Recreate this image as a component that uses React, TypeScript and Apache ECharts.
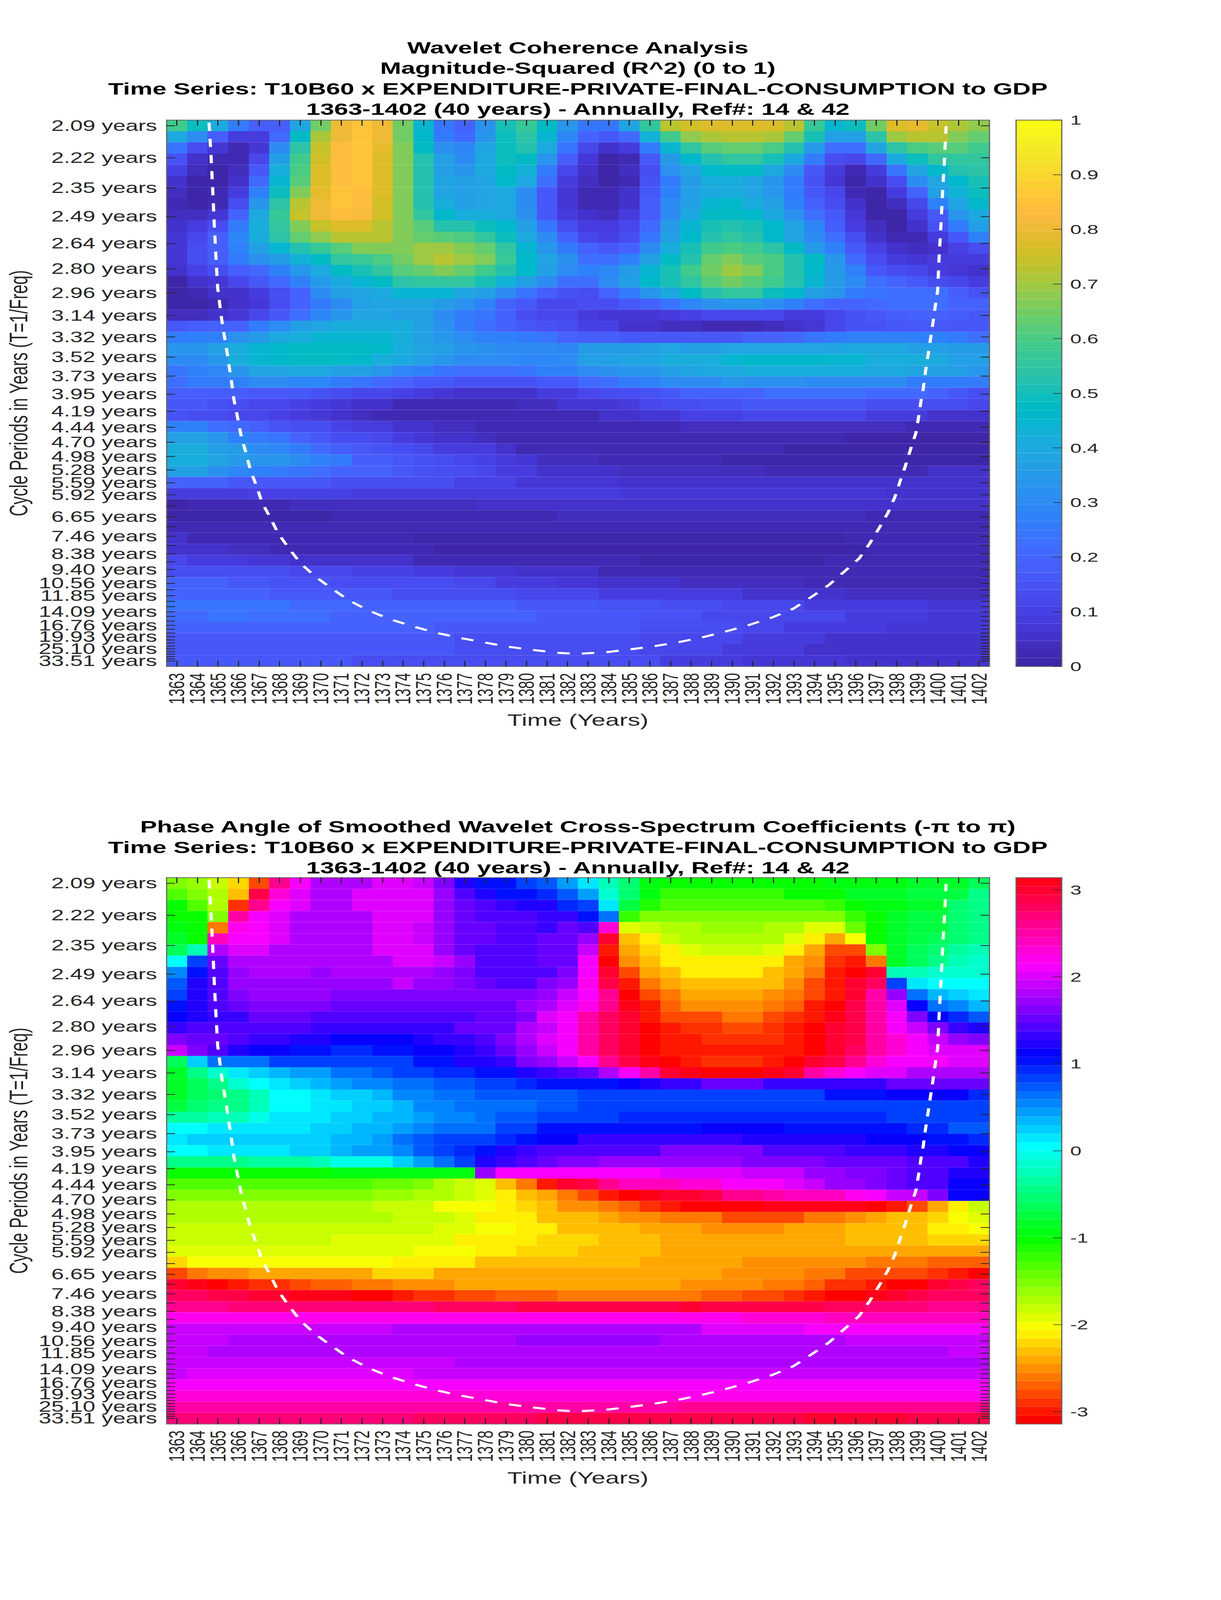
import React, { useEffect, useRef } from "react";
import * as echarts from "echarts";

const years = [1363,1364,1365,1366,1367,1368,1369,1370,1371,1372,1373,1374,1375,1376,1377,1378,1379,1380,1381,1382,1383,1384,1385,1386,1387,1388,1389,1390,1391,1392,1393,1394,1395,1396,1397,1398,1399,1400,1401,1402];

const tickPeriods = [2.0947,2.2193,2.3513,2.4911,2.6392,2.7961,2.9624,3.1385,3.3252,3.5229,3.7324,3.9543,4.1895,4.4386,4.7025,4.9821,5.2784,5.5922,5.9248,6.2771,6.6503,7.0458,7.4648,7.9087,8.3789,8.8771,9.4051,9.9643,10.557,11.185,11.850,12.555,13.301,14.092,14.930,15.818,16.758,17.755,18.810,19.929,21.114,22.370,23.700,25.109,26.602,28.184,29.860,31.635,33.516];
const tickLabels = ["2.09","2.22","2.35","2.49","2.64","2.80","2.96","3.14","3.32","3.52","3.73","3.95","4.19","4.44","4.70","4.98","5.28","5.59","5.92","","6.65","","7.46","","8.38","","9.40","","10.56","","11.85","","","14.09","","","16.76","","","19.93","","","","25.10","","","","","33.51"];

// Magnitude-squared coherence, one row per scale from the top of the picture, one value per year
const coherence = [
[.58,.49,.40,.25,.18,.18,.39,.65,.80,.85,.81,.65,.44,.24,.20,.32,.50,.57,.48,.33,.24,.24,.38,.56,.72,.76,.78,.78,.78,.78,.73,.57,.45,.49,.65,.77,.79,.74,.71,.68],
[.40,.31,.18,.09,.09,.21,.48,.71,.81,.85,.81,.65,.46,.26,.21,.33,.49,.54,.45,.29,.20,.16,.21,.43,.59,.68,.71,.73,.73,.71,.64,.50,.36,.37,.54,.69,.72,.72,.66,.64],
[.24,.14,.07,.03,.07,.31,.54,.74,.83,.85,.79,.67,.47,.32,.29,.38,.49,.53,.40,.24,.11,.06,.09,.26,.45,.56,.61,.63,.63,.60,.53,.35,.22,.22,.39,.54,.60,.62,.61,.59],
[.15,.06,.02,.03,.11,.36,.59,.75,.83,.85,.78,.67,.53,.36,.31,.40,.49,.47,.34,.18,.07,.01,.03,.17,.35,.46,.53,.55,.55,.50,.40,.25,.14,.11,.21,.40,.49,.55,.56,.56],
[.10,.04,.01,.04,.17,.41,.60,.77,.83,.85,.78,.67,.53,.37,.33,.40,.47,.43,.26,.12,.05,.01,.04,.14,.32,.39,.46,.47,.47,.40,.30,.17,.09,.03,.09,.24,.38,.46,.52,.54],
[.06,.01,.01,.06,.21,.45,.62,.77,.83,.85,.78,.67,.53,.38,.36,.39,.46,.40,.22,.08,.04,.01,.03,.15,.26,.35,.41,.41,.39,.33,.25,.15,.07,.01,.05,.13,.30,.38,.46,.51],
[.04,.01,.03,.08,.27,.49,.67,.79,.85,.83,.78,.67,.53,.38,.36,.38,.40,.31,.17,.07,.02,.02,.06,.17,.27,.37,.40,.41,.39,.33,.25,.16,.11,.03,.01,.08,.20,.37,.43,.49],
[.03,.01,.03,.13,.34,.54,.72,.80,.85,.83,.76,.67,.53,.41,.37,.38,.40,.31,.16,.07,.03,.02,.06,.18,.30,.37,.45,.46,.42,.37,.28,.19,.14,.05,.01,.04,.12,.28,.39,.46],
[.04,.04,.07,.19,.40,.57,.74,.81,.84,.82,.76,.67,.56,.46,.41,.41,.40,.32,.16,.08,.05,.04,.09,.18,.31,.40,.48,.48,.46,.40,.32,.22,.16,.07,.01,.01,.08,.17,.33,.40],
[.05,.08,.13,.26,.41,.56,.67,.74,.78,.78,.73,.67,.62,.53,.52,.49,.46,.37,.24,.14,.09,.08,.11,.21,.35,.44,.50,.53,.50,.46,.39,.29,.18,.09,.04,.01,.05,.15,.26,.36],
[.07,.11,.18,.29,.42,.54,.63,.68,.72,.72,.72,.67,.64,.61,.60,.56,.49,.40,.30,.20,.12,.10,.14,.24,.37,.46,.53,.55,.53,.46,.39,.31,.22,.14,.06,.02,.03,.09,.17,.27],
[.07,.13,.18,.27,.36,.45,.52,.57,.62,.66,.66,.66,.69,.69,.67,.63,.55,.45,.34,.26,.19,.17,.19,.31,.41,.50,.59,.60,.59,.54,.47,.35,.28,.17,.10,.05,.04,.05,.10,.13],
[.07,.13,.18,.25,.32,.35,.43,.48,.55,.57,.60,.65,.70,.73,.70,.66,.57,.46,.38,.32,.22,.22,.27,.37,.47,.53,.63,.66,.62,.60,.52,.47,.33,.21,.13,.09,.07,.08,.08,.08],
[.05,.10,.14,.18,.21,.28,.34,.40,.47,.50,.55,.61,.64,.66,.63,.59,.52,.46,.36,.31,.28,.29,.35,.45,.51,.58,.65,.69,.67,.60,.53,.46,.35,.27,.16,.14,.11,.09,.07,.05],
[.01,.05,.07,.11,.17,.21,.27,.35,.40,.45,.47,.54,.55,.55,.55,.50,.43,.36,.30,.23,.23,.30,.36,.46,.51,.56,.62,.65,.62,.58,.53,.45,.35,.30,.22,.19,.17,.14,.12,.08],
[.01,.02,.05,.06,.09,.14,.20,.30,.36,.39,.40,.44,.44,.44,.39,.36,.31,.24,.18,.15,.14,.19,.25,.33,.40,.47,.53,.55,.55,.49,.46,.37,.33,.26,.24,.23,.23,.22,.18,.15],
[.00,.00,.02,.05,.07,.14,.20,.25,.31,.36,.39,.39,.38,.35,.32,.27,.20,.16,.12,.11,.13,.13,.16,.19,.24,.29,.32,.33,.33,.31,.28,.22,.19,.19,.21,.23,.23,.22,.20,.19],
[.04,.04,.05,.07,.12,.16,.23,.29,.34,.38,.38,.36,.36,.31,.26,.24,.19,.14,.12,.11,.09,.07,.07,.07,.08,.10,.11,.11,.11,.11,.09,.09,.12,.15,.16,.18,.20,.20,.18,.17],
[.17,.18,.19,.20,.26,.30,.37,.38,.41,.41,.41,.41,.36,.32,.25,.22,.20,.17,.15,.13,.10,.10,.06,.05,.04,.04,.02,.02,.02,.04,.05,.07,.12,.15,.15,.17,.17,.17,.17,.16],
[.26,.27,.27,.32,.35,.40,.42,.45,.45,.44,.44,.42,.37,.34,.30,.28,.27,.25,.24,.20,.18,.18,.17,.17,.17,.17,.17,.17,.19,.20,.21,.24,.25,.27,.28,.28,.28,.27,.26,.22],
[.33,.34,.37,.41,.44,.46,.47,.47,.47,.47,.46,.41,.39,.36,.33,.32,.30,.30,.30,.29,.35,.35,.35,.37,.38,.37,.37,.38,.38,.39,.39,.39,.39,.40,.40,.40,.37,.37,.35,.35],
[.30,.31,.33,.42,.44,.46,.47,.48,.47,.46,.41,.40,.37,.33,.31,.30,.30,.29,.29,.30,.37,.37,.38,.39,.41,.42,.42,.44,.46,.46,.46,.46,.45,.45,.42,.41,.41,.40,.37,.37],
[.24,.27,.29,.33,.38,.39,.40,.40,.37,.36,.33,.29,.28,.24,.23,.22,.22,.24,.27,.28,.31,.32,.33,.33,.37,.38,.40,.40,.41,.41,.41,.41,.41,.41,.40,.40,.38,.37,.36,.34],
[.23,.25,.25,.28,.30,.30,.29,.29,.26,.24,.21,.20,.17,.16,.15,.15,.15,.15,.16,.17,.21,.22,.25,.28,.30,.30,.31,.33,.32,.32,.32,.31,.30,.30,.30,.30,.26,.26,.26,.26],
[.18,.18,.18,.18,.17,.17,.16,.15,.13,.12,.11,.10,.08,.07,.06,.06,.06,.06,.08,.08,.12,.13,.13,.15,.17,.19,.20,.20,.20,.22,.22,.23,.22,.22,.21,.21,.21,.19,.16,.14],
[.16,.16,.15,.13,.12,.12,.10,.09,.07,.05,.05,.03,.03,.03,.03,.03,.03,.04,.04,.07,.07,.07,.09,.11,.13,.13,.15,.15,.16,.16,.16,.16,.16,.16,.14,.14,.14,.14,.13,.12],
[.15,.13,.13,.12,.11,.10,.09,.07,.05,.04,.03,.03,.02,.02,.02,.02,.02,.02,.02,.03,.03,.05,.05,.07,.07,.10,.10,.10,.11,.11,.11,.11,.11,.11,.09,.09,.09,.06,.06,.06],
[.27,.27,.22,.21,.18,.15,.14,.13,.10,.09,.08,.06,.05,.04,.04,.02,.02,.02,.02,.02,.02,.03,.03,.03,.03,.04,.04,.04,.04,.04,.04,.04,.04,.04,.04,.04,.02,.02,.02,.02],
[.37,.36,.33,.28,.25,.24,.20,.17,.14,.13,.11,.08,.07,.05,.05,.04,.03,.03,.03,.03,.03,.03,.02,.02,.02,.02,.02,.02,.02,.02,.02,.02,.02,.01,.01,.01,.01,.01,.01,.01],
[.41,.41,.36,.35,.31,.29,.25,.21,.18,.16,.15,.14,.12,.08,.08,.08,.06,.03,.03,.03,.03,.03,.03,.03,.03,.03,.03,.03,.03,.03,.01,.01,.01,.01,.01,.01,.01,.01,.01,.01],
[.41,.42,.39,.35,.33,.33,.31,.28,.25,.18,.18,.17,.15,.13,.12,.10,.09,.07,.04,.04,.04,.03,.03,.03,.03,.03,.03,.01,.01,.01,.01,.01,.01,.01,.01,.01,.01,.01,.01,.01],
[.37,.36,.32,.29,.27,.26,.24,.22,.20,.20,.19,.17,.15,.13,.13,.11,.09,.09,.06,.06,.06,.06,.04,.04,.04,.04,.04,.04,.04,.02,.02,.02,.02,.02,.02,.02,.02,.05,.05,.05],
[.20,.20,.20,.17,.17,.17,.16,.16,.14,.14,.14,.14,.13,.13,.10,.10,.10,.07,.07,.07,.07,.07,.05,.05,.05,.05,.05,.05,.05,.05,.05,.05,.05,.05,.05,.05,.05,.05,.06,.06],
[.08,.08,.08,.08,.10,.10,.10,.10,.10,.08,.08,.08,.08,.08,.08,.08,.08,.08,.08,.08,.08,.08,.07,.07,.07,.07,.07,.07,.07,.07,.07,.07,.07,.07,.07,.05,.05,.05,.05,.05],
[.01,.03,.03,.03,.03,.03,.04,.04,.04,.04,.04,.04,.04,.04,.04,.06,.06,.06,.06,.06,.06,.06,.06,.06,.06,.06,.06,.06,.06,.06,.06,.06,.06,.06,.06,.06,.06,.05,.05,.05],
[.01,.01,.01,.01,.01,.01,.01,.01,.03,.03,.03,.03,.03,.03,.03,.03,.03,.03,.03,.04,.04,.04,.04,.04,.04,.04,.04,.04,.04,.04,.04,.04,.04,.04,.03,.03,.03,.03,.03,.03],
[.02,.02,.02,.02,.02,.02,.02,.02,.02,.02,.02,.02,.02,.02,.02,.02,.02,.02,.02,.02,.02,.02,.02,.02,.02,.02,.02,.02,.02,.02,.02,.02,.02,.02,.02,.02,.02,.02,.03,.03],
[.05,.03,.03,.03,.02,.02,.02,.02,.02,.02,.02,.02,.01,.01,.01,.01,.01,.01,.01,.01,.01,.01,.01,.01,.01,.01,.01,.01,.01,.01,.01,.01,.01,.02,.02,.02,.02,.02,.02,.03],
[.06,.06,.06,.04,.04,.03,.03,.03,.02,.02,.02,.02,.02,.01,.01,.01,.01,.01,.01,.01,.01,.01,.01,.01,.01,.01,.01,.01,.01,.01,.01,.01,.01,.01,.02,.02,.02,.02,.02,.03],
[.11,.09,.09,.08,.07,.07,.06,.06,.06,.05,.05,.05,.03,.03,.03,.02,.02,.02,.02,.02,.02,.02,.02,.01,.01,.01,.01,.01,.01,.01,.01,.01,.02,.02,.02,.02,.02,.02,.03,.03],
[.14,.13,.13,.13,.13,.13,.11,.11,.11,.10,.10,.10,.08,.08,.07,.07,.07,.05,.05,.05,.05,.03,.03,.03,.03,.03,.03,.02,.02,.02,.02,.02,.02,.02,.02,.02,.03,.03,.03,.03],
[.20,.20,.20,.17,.17,.15,.15,.15,.14,.14,.14,.14,.13,.13,.11,.11,.09,.09,.09,.07,.07,.06,.06,.06,.06,.04,.04,.04,.04,.04,.04,.03,.03,.03,.03,.03,.03,.03,.03,.03],
[.20,.20,.20,.20,.20,.17,.17,.16,.16,.16,.16,.14,.14,.14,.13,.13,.13,.11,.11,.11,.11,.09,.09,.09,.08,.08,.08,.08,.06,.06,.06,.06,.06,.04,.04,.04,.04,.04,.04,.04],
[.24,.24,.24,.24,.24,.24,.21,.21,.21,.19,.19,.19,.19,.19,.19,.19,.19,.17,.17,.17,.17,.15,.15,.15,.14,.14,.14,.11,.11,.11,.11,.09,.09,.09,.09,.09,.09,.07,.07,.07],
[.21,.21,.24,.24,.22,.22,.22,.22,.20,.20,.20,.20,.20,.19,.19,.19,.19,.19,.17,.17,.17,.17,.17,.15,.15,.15,.11,.11,.11,.11,.11,.11,.11,.09,.09,.09,.09,.07,.07,.07],
[.20,.20,.20,.20,.20,.20,.20,.20,.19,.19,.19,.19,.19,.17,.17,.17,.17,.17,.16,.16,.16,.16,.16,.14,.14,.14,.14,.14,.11,.11,.09,.09,.09,.09,.09,.07,.07,.07,.07,.07],
[.17,.17,.17,.17,.17,.17,.17,.17,.16,.16,.16,.16,.16,.16,.14,.14,.14,.14,.13,.13,.13,.13,.13,.12,.12,.12,.12,.12,.09,.09,.09,.09,.06,.06,.06,.06,.06,.06,.06,.06],
[.16,.16,.16,.16,.16,.16,.16,.16,.16,.16,.16,.16,.16,.16,.14,.14,.14,.14,.14,.14,.14,.14,.14,.11,.11,.11,.11,.08,.08,.08,.08,.05,.05,.05,.05,.05,.05,.05,.05,.05],
[.16,.16,.16,.16,.16,.16,.16,.16,.16,.14,.14,.14,.14,.13,.13,.13,.13,.13,.13,.13,.13,.13,.13,.13,.08,.08,.08,.08,.07,.07,.07,.07,.07,.05,.05,.05,.05,.05,.05,.05],
];

// Phase angle in radians, same layout
const phase = [
[-1.5,-1.64,-1.8,-2.16,-2.75,2.62,2.15,1.85,1.85,1.85,1.97,1.97,1.87,1.64,1.25,1.0,1.0,.8,.72,.45,.13,-.25,-.52,-.92,-1.05,-1.05,-1.05,-1.05,-1.05,-1.05,-1.05,-1.05,-.95,-.95,-.95,-.92,-.85,-.8,-.8,-.6],
[-1.3,-1.55,-1.72,-2.3,2.93,2.3,2.0,1.85,1.85,2.0,2.0,2.0,2.0,1.75,1.45,1.2,1.05,1.05,.95,.75,.42,-.1,-.55,-.97,-1.18,-1.18,-1.18,-1.18,-1.18,-1.18,-1.05,-1.05,-1.05,-.88,-.88,-.88,-.78,-.78,-.72,-.42],
[-1.05,-1.32,-1.7,-2.85,2.6,2.15,2.0,1.85,1.85,2.0,2.0,2.0,2.0,1.75,1.55,1.4,1.3,1.18,1.18,.98,.8,.1,-.75,-1.15,-1.3,-1.3,-1.3,-1.3,-1.3,-1.3,-1.3,-1.3,-1.18,-1.05,-.92,-.92,-.82,-.8,-.55,-.4],
[-1.05,-1.05,-1.55,2.55,2.1,1.98,1.85,1.85,1.85,1.85,2.0,2.0,2.0,1.75,1.55,1.45,1.42,1.42,1.3,1.3,1.05,.6,-1.25,-1.48,-1.48,-1.48,-1.48,-1.48,-1.48,-1.48,-1.48,-1.48,-1.48,-1.25,-1.05,-.85,-.75,-.72,-.55,-.45],
[-.95,-1.05,-2.6,2.2,2.1,2.0,1.85,1.85,1.85,1.85,2.0,2.0,1.87,1.75,1.55,1.48,1.4,1.4,1.35,1.5,1.45,2.3,-1.95,-1.85,-1.75,-1.7,-1.6,-1.6,-1.6,-1.7,-1.7,-1.87,-1.87,-1.45,-1.05,-.85,-.78,-.72,-.5,-.48],
[-.85,-1.05,2.45,2.15,2.1,2.0,1.85,1.85,1.85,1.85,2.0,2.0,1.87,1.75,1.55,1.48,1.42,1.42,1.55,1.55,1.7,2.95,-2.3,-2.1,-1.85,-1.75,-1.75,-1.75,-1.75,-1.75,-1.95,-2.12,-2.4,-2.05,-1.05,-.85,-.75,-.65,-.5,-.42],
[-.6,-.2,1.85,2.0,2.0,1.85,1.85,1.85,1.85,1.85,1.97,1.97,1.97,1.75,1.55,1.45,1.4,1.4,1.5,1.5,1.95,-3.0,-2.45,-2.17,-2.08,-1.95,-1.85,-1.85,-1.85,-1.95,-2.12,-2.42,-2.75,-2.75,-1.5,-.85,-.65,-.5,-.35,-.25],
[0,.8,1.55,1.85,1.85,1.85,1.85,1.85,1.85,1.85,1.85,2.0,2.0,1.9,1.7,1.45,1.4,1.4,1.5,1.5,2.1,-3.14,-2.55,-2.3,-2.15,-2.08,-2.08,-2.08,-2.08,-2.15,-2.4,-2.55,-2.85,-3.0,-2.65,-.8,-.6,-.45,-.25,-.1],
[.5,1.05,1.45,1.7,1.85,1.85,1.85,1.75,1.85,1.85,1.85,1.85,1.85,1.75,1.6,1.45,1.45,1.45,1.45,1.65,2.15,3.0,-2.75,-2.45,-2.27,-2.13,-2.13,-2.13,-2.13,-2.27,-2.45,-2.65,-2.95,-3.14,3.0,-.2,-.2,-.17,-.1,-.1],
[.7,1.2,1.45,1.75,1.75,1.75,1.75,1.75,1.75,1.75,1.75,1.9,1.75,1.75,1.6,1.55,1.45,1.45,1.6,1.75,2.2,2.85,-2.95,-2.65,-2.45,-2.35,-2.27,-2.27,-2.35,-2.35,-2.5,-2.75,-2.95,3.0,2.8,.85,.12,0,0,0],
[.85,1.2,1.45,1.6,1.75,1.75,1.75,1.75,1.65,1.65,1.65,1.65,1.65,1.65,1.58,1.58,1.58,1.58,1.7,1.95,2.15,2.65,-3.14,-2.75,-2.6,-2.45,-2.45,-2.45,-2.45,-2.55,-2.62,-2.8,-3.0,2.95,2.55,1.75,.62,.33,.2,.1],
[1.02,1.25,1.4,1.55,1.62,1.62,1.62,1.62,1.55,1.55,1.55,1.55,1.55,1.55,1.55,1.55,1.55,1.7,1.85,2.05,2.2,2.62,3.05,-2.95,-2.7,-2.55,-2.5,-2.5,-2.5,-2.65,-2.72,-2.95,-3.14,2.9,2.5,2.0,1.15,.68,.5,.38],
[1.15,1.22,1.35,1.35,1.48,1.48,1.48,1.42,1.42,1.42,1.42,1.42,1.42,1.42,1.42,1.57,1.57,1.65,2.0,2.12,2.5,2.75,3.0,-3.0,-2.8,-2.75,-2.75,-2.65,-2.65,-2.75,-2.85,-3.0,3.05,2.85,2.5,2.13,1.65,1.1,.9,.7],
[1.3,1.38,1.38,1.42,1.42,1.42,1.42,1.35,1.35,1.35,1.35,1.35,1.35,1.35,1.5,1.55,1.55,1.85,1.95,2.12,2.55,2.8,3.0,-3.14,-2.95,-2.85,-2.85,-2.75,-2.75,-2.87,-2.95,-3.05,3.02,2.85,2.55,2.15,1.87,1.6,1.3,1.2],
[1.65,1.55,1.55,1.45,1.32,1.32,1.25,1.25,1.15,1.15,1.15,1.15,1.25,1.32,1.32,1.42,1.6,1.85,2.0,2.1,2.55,2.75,3.0,-3.14,-3.0,-2.95,-2.87,-2.87,-2.87,-2.87,-2.95,-3.14,3.0,2.85,2.55,2.35,2.1,1.9,1.75,1.65],
[1.9,1.6,1.45,1.22,1.15,1.15,1.05,1.05,.98,.98,1.02,1.02,1.15,1.15,1.25,1.35,1.5,1.75,1.95,2.1,2.55,2.75,2.95,-3.14,-3.02,-2.95,-2.95,-2.95,-2.95,-2.95,-3.02,-3.14,3.0,2.8,2.5,2.35,2.12,2.0,2.0,2.0],
[-.65,.2,.65,.68,.68,.8,.8,.8,.8,.8,.87,.87,1.0,1.05,1.2,1.2,1.35,1.6,1.75,1.95,2.12,2.6,2.85,3.05,-3.14,-3.02,-2.92,-2.92,-2.92,-3.02,-3.14,3.0,2.85,2.65,2.35,2.13,2.09,2.09,2.0,2.0],
[-.8,-.45,-.15,.1,.2,.35,.48,.48,.6,.6,.75,.8,.8,.9,.9,1.0,1.05,1.2,1.3,1.42,1.55,1.85,2.1,2.55,2.95,3.05,-3.14,-3.14,-3.14,3.1,2.95,2.5,2.3,2.12,1.98,1.98,1.85,1.85,1.85,1.85],
[-.82,-.6,-.4,-.1,0,.1,.2,.33,.4,.5,.5,.62,.62,.75,.75,.8,.8,.92,1.02,1.02,1.05,1.05,1.15,1.25,1.35,1.35,1.48,1.48,1.48,1.35,1.35,1.35,1.35,1.35,1.35,1.48,1.48,1.48,1.48,1.48],
[-.8,-.6,-.5,-.4,-.2,0,.08,.18,.28,.28,.38,.5,.5,.62,.62,.72,.72,.78,.78,.78,.88,.88,.88,.88,.88,.88,.88,.88,.88,.88,.88,.88,1.0,1.0,1.0,1.08,1.08,1.08,1.08,.98],
[-.7,-.5,-.45,-.45,-.25,0,.08,.18,.18,.25,.25,.36,.5,.5,.6,.6,.68,.68,.75,.75,.8,.87,.87,.87,.87,.87,.87,.87,.87,.87,.87,.87,.87,.87,.87,.87,.87,.87,.87,.8],
[-.33,-.33,-.25,-.25,-.05,.1,.1,.18,.25,.25,.35,.35,.45,.55,.55,.65,.75,.75,.85,.85,.82,.82,.98,.98,.98,.98,.98,.98,.98,.98,.98,.98,.98,.98,.98,.88,.88,.88,.88,.82],
[0,0,.1,.1,.1,.15,.15,.25,.25,.35,.35,.45,.55,.68,.68,.68,.8,.8,1.0,1.0,1.05,1.05,1.05,1.05,1.05,1.05,1.17,1.17,1.17,1.17,1.05,1.05,1.05,1.05,1.05,1.05,.95,.95,.75,.75],
[.1,.2,.2,.2,.2,.25,.25,.25,.38,.38,.45,.6,.7,.8,.8,.8,.95,1.03,1.15,1.15,1.28,1.28,1.28,1.28,1.28,1.28,1.35,1.35,1.25,1.25,1.25,1.25,1.25,1.25,1.12,1.12,1.12,1.02,1.02,.95],
[0,0,.1,.1,.1,.1,.2,.2,.3,.42,.42,.5,.7,.8,.98,1.05,1.2,1.3,1.4,1.4,1.42,1.42,1.42,1.42,1.58,1.58,1.58,1.58,1.58,1.45,1.45,1.45,1.45,1.35,1.35,1.35,1.25,1.25,1.15,1.15],
[-.45,-.45,-.45,-.45,-.35,-.35,-.35,-.2,-.03,-.03,-.03,.2,.42,.65,.85,1.18,1.3,1.42,1.5,1.63,1.63,1.73,1.73,1.73,1.73,1.73,1.73,1.73,1.63,1.63,1.63,1.63,1.55,1.55,1.55,1.55,1.45,1.45,1.38,1.25],
[-1.05,-1.05,-1.05,-1.05,-1.05,-1.05,-1.05,-1.05,-.92,-.92,-.92,-.92,-.92,-.92,-.92,1.75,2.09,2.09,2.09,2.09,2.09,2.09,2.09,2.09,2.0,2.0,2.0,2.0,1.87,1.87,1.87,1.7,1.7,1.62,1.62,1.5,1.4,1.4,1.2,1.2],
[-1.3,-1.3,-1.3,-1.3,-1.3,-1.3,-1.3,-1.3,-1.3,-1.3,-1.4,-1.4,-1.55,-1.68,-1.8,-1.92,-2.27,-2.6,-2.95,3.0,2.85,2.65,2.45,2.45,2.45,2.35,2.35,2.12,2.12,2.1,2.0,1.9,1.75,1.75,1.6,1.5,1.45,1.45,1.15,1.15],
[-1.55,-1.55,-1.55,-1.55,-1.55,-1.55,-1.55,-1.55,-1.55,-1.55,-1.65,-1.65,-1.72,-1.72,-1.8,-1.9,-2.08,-2.3,-2.45,-2.6,-2.8,-3.0,-3.14,3.05,2.95,2.95,2.85,2.65,2.65,2.55,2.45,2.45,2.45,2.2,2.15,1.87,1.87,1.6,1.15,1.15],
[-1.7,-1.7,-1.7,-1.7,-1.7,-1.7,-1.7,-1.7,-1.7,-1.7,-1.82,-1.82,-1.82,-1.98,-1.98,-1.98,-2.08,-2.17,-2.3,-2.5,-2.5,-2.6,-2.7,-2.85,-3.0,-3.05,-3.05,-3.14,-3.14,3.05,3.05,3.05,3.05,3.05,-3.14,-3.0,-2.75,-2.45,-2.13,-1.85],
[-1.7,-1.7,-1.7,-1.7,-1.7,-1.7,-1.75,-1.75,-1.75,-1.75,-1.75,-1.85,-1.85,-1.85,-1.95,-2.08,-2.08,-2.13,-2.27,-2.27,-2.35,-2.4,-2.5,-2.5,-2.6,-2.6,-2.6,-2.75,-2.75,-2.75,-2.75,-2.6,-2.6,-2.5,-2.4,-2.35,-2.27,-2.17,-2.05,-1.9],
[-1.8,-1.8,-1.8,-1.8,-1.8,-1.8,-1.8,-1.8,-1.8,-1.85,-1.85,-1.85,-1.85,-1.95,-1.95,-2.05,-2.05,-2.13,-2.13,-2.27,-2.35,-2.35,-2.35,-2.42,-2.42,-2.42,-2.55,-2.55,-2.55,-2.55,-2.42,-2.42,-2.42,-2.35,-2.35,-2.27,-2.27,-2.15,-2.15,-2.05],
[-1.78,-1.78,-1.78,-1.78,-1.78,-1.78,-1.78,-1.78,-1.87,-1.87,-1.87,-1.95,-1.95,-1.95,-2.08,-2.08,-2.15,-2.15,-2.25,-2.25,-2.25,-2.35,-2.35,-2.35,-2.45,-2.45,-2.45,-2.45,-2.45,-2.45,-2.45,-2.45,-2.45,-2.35,-2.35,-2.35,-2.35,-2.25,-2.25,-2.25],
[-1.87,-1.87,-1.87,-1.87,-1.87,-1.87,-1.87,-1.87,-1.87,-1.95,-1.95,-1.95,-2.06,-2.06,-2.06,-2.13,-2.13,-2.25,-2.25,-2.25,-2.35,-2.35,-2.35,-2.35,-2.45,-2.45,-2.45,-2.45,-2.45,-2.45,-2.45,-2.45,-2.45,-2.45,-2.45,-2.45,-2.45,-2.45,-2.45,-2.45],
[-2.2,-2.06,-2.06,-2.06,-2.06,-2.06,-2.06,-2.06,-2.06,-2.06,-2.06,-2.13,-2.13,-2.13,-2.13,-2.27,-2.27,-2.27,-2.27,-2.35,-2.35,-2.35,-2.35,-2.45,-2.45,-2.45,-2.45,-2.45,-2.52,-2.52,-2.52,-2.52,-2.52,-2.52,-2.6,-2.6,-2.6,-2.72,-2.72,-2.72],
[-2.75,-2.6,-2.5,-2.5,-2.37,-2.37,-2.37,-2.37,-2.37,-2.37,-2.25,-2.25,-2.25,-2.37,-2.37,-2.37,-2.37,-2.37,-2.37,-2.37,-2.37,-2.37,-2.45,-2.45,-2.45,-2.45,-2.45,-2.55,-2.55,-2.55,-2.55,-2.6,-2.6,-2.75,-2.75,-2.75,-2.75,-2.9,-3.0,-3.14],
[3.0,3.05,-3.14,-3.0,-2.9,-2.9,-2.8,-2.72,-2.72,-2.6,-2.6,-2.5,-2.5,-2.5,-2.45,-2.45,-2.45,-2.45,-2.45,-2.45,-2.45,-2.45,-2.45,-2.45,-2.45,-2.52,-2.52,-2.52,-2.52,-2.6,-2.6,-2.72,-2.85,-2.85,-3.0,-3.1,-3.14,3.0,2.9,2.75],
[2.75,2.75,2.85,2.85,2.95,2.95,3.05,3.05,3.05,-3.14,-3.14,-3.0,-2.9,-2.9,-2.8,-2.8,-2.72,-2.72,-2.72,-2.6,-2.6,-2.6,-2.6,-2.6,-2.6,-2.6,-2.72,-2.72,-2.82,-2.82,-2.9,-3.0,-3.14,-3.14,3.05,3.0,2.88,2.8,2.8,2.75],
[2.65,2.65,2.65,2.68,2.68,2.68,2.68,2.68,2.68,2.72,2.72,2.72,2.72,2.75,2.75,2.75,2.75,2.85,2.85,2.85,2.85,2.85,2.85,2.85,2.85,3.0,2.9,2.9,2.9,2.9,2.9,2.85,2.8,2.8,2.72,2.72,2.72,2.65,2.65,2.6],
[2.17,2.17,2.17,2.17,2.17,2.17,2.17,2.17,2.17,2.17,2.17,2.17,2.17,2.17,2.17,2.17,2.17,2.17,2.17,2.17,2.17,2.17,2.17,2.2,2.2,2.2,2.2,2.2,2.33,2.33,2.33,2.33,2.45,2.45,2.45,2.45,2.45,2.45,2.38,2.38],
[1.95,1.95,1.95,1.95,1.95,1.95,1.95,1.95,1.95,1.95,1.95,1.85,1.85,1.85,1.85,1.85,1.85,1.85,1.85,1.85,1.85,1.85,1.85,1.85,1.85,1.85,1.97,1.97,1.97,1.97,1.97,2.12,2.12,2.12,2.12,2.12,2.12,2.12,2.12,2.12],
[1.95,1.95,1.95,1.85,1.85,1.85,1.85,1.85,1.85,1.85,1.85,1.85,1.85,1.85,1.85,1.85,1.85,1.72,1.72,1.72,1.72,1.72,1.72,1.72,1.85,1.85,1.85,1.85,1.85,1.85,1.85,1.85,1.85,1.95,1.95,1.95,1.95,1.95,1.95,1.95],
[1.95,1.95,1.8,1.8,1.8,1.8,1.8,1.8,1.8,1.8,1.8,1.8,1.8,1.8,1.8,1.8,1.8,1.8,1.8,1.8,1.8,1.8,1.8,1.8,1.8,1.8,1.8,1.8,1.8,1.8,1.8,1.8,1.8,1.8,1.8,1.8,1.8,1.8,1.9,1.9],
[1.9,1.9,1.9,1.9,1.9,1.9,1.9,1.9,1.9,1.9,1.9,1.9,1.9,1.9,1.8,1.8,1.8,1.8,1.8,1.8,1.8,1.8,1.8,1.8,1.8,1.8,1.8,1.8,1.8,1.8,1.8,1.8,1.8,1.8,1.8,1.8,1.8,1.8,1.8,1.8],
[1.95,2.05,2.05,2.05,2.05,2.05,2.05,2.05,2.05,2.05,2.05,2.05,1.92,1.92,1.92,1.92,1.92,1.92,1.92,1.92,1.92,1.92,1.92,1.92,1.92,1.92,1.92,1.92,1.92,1.92,1.92,1.92,1.92,1.92,1.92,1.92,1.92,1.92,1.92,1.92],
[2.09,2.09,2.09,2.15,2.15,2.15,2.15,2.15,2.15,2.15,2.15,2.15,2.15,2.15,2.15,2.15,2.15,2.15,2.15,2.15,2.15,2.15,2.15,2.15,2.15,2.15,2.1,2.1,2.1,2.1,2.1,2.1,2.1,2.1,2.1,2.1,2.1,2.1,2.1,2.1],
[2.3,2.3,2.3,2.3,2.3,2.3,2.3,2.3,2.3,2.3,2.3,2.3,2.3,2.3,2.3,2.3,2.3,2.3,2.3,2.3,2.3,2.3,2.3,2.3,2.3,2.25,2.25,2.25,2.25,2.25,2.25,2.25,2.25,2.25,2.25,2.25,2.25,2.25,2.2,2.2],
[2.48,2.48,2.48,2.52,2.52,2.52,2.52,2.52,2.52,2.52,2.52,2.52,2.52,2.52,2.55,2.55,2.55,2.55,2.55,2.55,2.55,2.55,2.55,2.55,2.55,2.62,2.62,2.62,2.62,2.62,2.62,2.62,2.62,2.62,2.58,2.58,2.58,2.58,2.58,2.58],
[2.68,2.68,2.68,2.68,2.68,2.72,2.72,2.72,2.72,2.72,2.72,2.72,2.75,2.75,2.75,2.75,2.75,2.75,2.85,2.85,2.85,2.85,2.85,2.85,2.88,2.88,2.88,2.88,2.88,2.88,2.88,2.98,2.98,2.98,2.98,2.98,2.9,2.9,2.9,2.9],
];

// Cone of influence, read as (year, frequency in cycles per year)
const coiYears = [1364.57,1364.67,1364.75,1364.82,1364.90,1364.99,1365.19,1365.45,1365.69,1365.77,1366.0,1366.15,1366.38,1366.58,1366.89,1367.14,1367.55,1367.93,1368.44,1369.0,1369.72,1370.54,1371.38,1372.32,1373.34,1374.49,1375.64,1376.66,1377.93,1379.08,1380.23,1381.5,1382.4,1383.8,1385.08,1386.22,1387.37,1388.65,1389.67,1390.82,1391.96,1392.98,1393.88,1394.69,1395.46,1396.17,1396.68,1397.14,1397.58,1397.91,1398.16,1398.42,1398.67,1398.93,1399.06,1399.18,1399.29,1399.40,1399.52,1399.64,1399.76,1399.87,1399.99,1400.06,1400.15,1400.23,1400.32,1400.40];
const coiFreqs = [.4798,.4513,.4236,.3965,.3695,.3417,.3147,.2874,.2599,.2493,.2297,.2161,.2030,.1892,.1755,.1625,.1494,.1364,.1242,.1118,.1005,.0902,.0803,.0720,.0648,.0586,.0532,.0494,.0453,.0417,.0391,.0366,.0357,.0369,.0395,.0421,.0453,.0499,.0543,.0598,.0662,.0735,.0836,.0931,.1046,.1154,.1278,.1407,.1538,.1668,.1798,.1928,.2066,.2203,.2333,.2471,.2577,.2719,.2851,.2989,.3124,.3259,.3395,.3672,.3942,.4221,.4490,.4768];

const titleCoherence = "Wavelet Coherence Analysis\nMagnitude-Squared (R^2) (0 to 1)\nTime Series: T10B60 x EXPENDITURE-PRIVATE-FINAL-CONSUMPTION to GDP\n1363-1402 (40 years) - Annually, Ref#: 14 & 42";
const titlePhase = "Phase Angle of Smoothed Wavelet Cross-Spectrum Coefficients (-π to π)\nTime Series: T10B60 x EXPENDITURE-PRIVATE-FINAL-CONSUMPTION to GDP\n1363-1402 (40 years) - Annually, Ref#: 14 & 42";
const coherenceBarTicks = [0,.1,.2,.3,.4,.5,.6,.7,.8,.9,1];
const phaseBarTicks = [-3,-2,-1,0,1,2,3];

const parula = ["#3e26a8","#402aB4","#422ebf","#4332cb","#4537d5","#463cde","#4741e5","#4747eb","#474df0","#4752f4","#4758f8","#465efb","#4563fc","#4269fe","#3e6fff","#3875fe","#327cfc","#2f81fa","#2d87f7","#2d8cf3","#2b91ef","#2796eb","#259be8","#23a0e5","#20a5e2","#1ca9df","#18addb","#12b1d6","#08b5d0","#01b8ca","#02bac3","#0bbdbd","#18bfb5","#24c1ae","#2cc3a7","#31c69f","#37c897","#3fca8e","#4acb84","#57cc7a","#64cd6f","#72cc64","#81cc59","#8fcb4e","#9dc943","#abc739","#b9c431","#c5c22a","#d1bf27","#dcbd29","#e6bb2d","#efba35","#f8ba3d","#febd3c","#fec338","#fec934","#fccf30","#f9d62d","#f7dc2a","#f5e327","#f5e924","#f6ef20","#f7f51b","#f9fb15"];
const hsvColor = (i: number) => {
  const h = (i / 64) * 6, k = Math.floor(h), f = h - k;
  const hex = (x: number) => Math.round(x * 255).toString(16).padStart(2, "0");
  const rgb = [[1, f, 0], [1 - f, 1, 0], [0, 1, f], [0, 1 - f, 1], [f, 0, 1], [1, 0, 1 - f]][k];
  return "#" + rgb.map(hex).join("");
};
const hsvMap = Array.from({ length: 64 }, (_, i) => hsvColor(i));

const FONT = "Liberation Sans";
const TEXT = "#262626";
const FRAME = "#666666";
const PAGE_W = 3125;
const PAGE_H = 6252;
const plot = { left: 426, width: 2106, height: 2135 };
const bar = { left: 2600, width: 117 };

const freqs = tickPeriods.map((p) => 1 / p);
const rowStep = (freqs[0] - freqs[48]) / 48;
const rowFreqs = freqs.map((_, i) => freqs[0] - i * rowStep);
const yMax = freqs[0] + rowStep / 2;
const yMin = freqs[48] - rowStep / 2;
const labelFor = (v: number) => {
  let best = 0;
  freqs.forEach((f, i) => { if (Math.abs(f - v) < Math.abs(freqs[best] - v)) best = i; });
  return tickLabels[best] ? tickLabels[best] + " years" : "";
};
// ECharts drops a label next to the first or last one when they touch, so these go on a label-only axis of their own.
const crowdedYears = [1364, 1401];
const crowdedPeriodLabels = ["25.10"];
const crowdedFreqs = crowdedPeriodLabels.map((l) => freqs[tickLabels.indexOf(l)]);
const mainYears = years.filter((y) => !crowdedYears.includes(y));
const mainFreqs = freqs.filter((_, i) => tickLabels[i] && !crowdedPeriodLabels.includes(tickLabels[i]));

const colorOf = (v: number, lo: number, hi: number, map: string[]) =>
  map[Math.max(0, Math.min(63, Math.floor(((v - lo) / (hi - lo)) * 64)))];

function buildPanel(top: number, idx: number, rows: number[][], lo: number, hi: number, map: string[], barTicks: number[]) {
  const mainGrid = idx * 2, barGrid = idx * 2 + 1;
  const grid = [
    { left: plot.left, top, width: plot.width, height: plot.height },
    { left: bar.left, top, width: bar.width, height: plot.height },
  ];
  const axisLine = { show: true, onZero: false, lineStyle: { color: FRAME, width: 3 } };
  const tick = { show: true, inside: true, length: 22, lineStyle: { color: TEXT, width: 3 } };
  const none = { axisTick: { show: false }, axisLabel: { show: false } };
  const xBase = { type: "value", min: 1362.5, max: 1402.5, gridIndex: mainGrid, splitLine: { show: false }, axisLine, z: 10 };
  const yBase = { type: "value", min: yMin, max: yMax, gridIndex: mainGrid, splitLine: { show: false }, axisLine, z: 10 };
  const xBarBase = { type: "value", min: 0, max: 1, gridIndex: barGrid, splitLine: { show: false }, axisLine, z: 10, ...none };
  const xLabel = { rotate: 90, fontSize: 55, color: TEXT, fontFamily: FONT, margin: 26, showMinLabel: true, showMaxLabel: true, formatter: (v: number) => String(v) };
  const yLabel = { fontSize: 58, color: TEXT, fontFamily: FONT, margin: 24, showMinLabel: true, showMaxLabel: true, formatter: labelFor };
  const xAxis: any[] = [
    { ...xBase, position: "bottom", name: "Time (Years)", nameLocation: "middle", nameGap: 178,
      nameTextStyle: { fontSize: 64, color: TEXT, fontFamily: FONT },
      axisTick: { ...tick, customValues: years },
      axisLabel: { ...xLabel, customValues: mainYears } },
    { ...xBase, position: "top", axisTick: { ...tick, customValues: years }, axisLabel: { show: false } },
    { ...xBarBase, position: "bottom" },
    { ...xBarBase, position: "top" },
    { ...xBase, position: "bottom", axisLine: { show: false, onZero: false }, axisTick: { show: false }, axisLabel: { ...xLabel, customValues: crowdedYears } },
  ];
  const yAxis: any[] = [
    { ...yBase, position: "left", name: "Cycle Periods in Years (T=1/Freq)", nameLocation: "middle", nameGap: 346,
      nameTextStyle: { fontSize: 64, color: TEXT, fontFamily: FONT },
      axisTick: { ...tick, customValues: freqs },
      axisLabel: { ...yLabel, customValues: mainFreqs } },
    { ...yBase, position: "right", axisTick: { ...tick, customValues: freqs }, axisLabel: { show: false } },
    { type: "value", min: lo, max: hi, gridIndex: barGrid, position: "right", splitLine: { show: false }, axisLine, z: 10,
      axisTick: { show: true, inside: true, length: 22, lineStyle: { color: TEXT, width: 2 }, customValues: barTicks },
      axisLabel: { customValues: barTicks, fontSize: 52, color: TEXT, fontFamily: FONT, margin: 22, showMinLabel: true, showMaxLabel: true, formatter: (v: number) => String(v) } },
    { type: "value", min: lo, max: hi, gridIndex: barGrid, position: "left", splitLine: { show: false }, axisLine, z: 10, ...none },
    { ...yBase, position: "left", axisLine: { show: false, onZero: false }, axisTick: { show: false }, axisLabel: { ...yLabel, customValues: crowdedFreqs } },
  ];
  const cells: number[][] = [];
  rows.forEach((row, r) => row.forEach((v, c) => cells.push([years[c], rowFreqs[r], v])));
  const step = (hi - lo) / 64;
  const levels = map.map((_, i) => [lo + (i + 0.5) * step]);
  const series: any[] = [
    {
      type: "custom", xAxisIndex: idx * 5, yAxisIndex: idx * 5, data: cells, silent: true, z: 2,
      encode: { x: 0, y: 1 },
      renderItem: (_: any, api: any) => {
        const a = api.coord([api.value(0) - 0.5, api.value(1) + rowStep / 2]);
        const b = api.coord([api.value(0) + 0.5, api.value(1) - rowStep / 2]);
        const x0 = Math.round(a[0]), y0 = Math.round(a[1]);
        return { type: "rect", shape: { x: x0, y: y0, width: Math.round(b[0]) - x0, height: Math.round(b[1]) - y0 },
          style: { fill: colorOf(api.value(2), lo, hi, map) } };
      },
    },
    {
      type: "line", xAxisIndex: idx * 5, yAxisIndex: idx * 5, data: coiYears.map((y, i) => [y, coiFreqs[i]]),
      showSymbol: false, silent: true, z: 3, clip: true,
      lineStyle: { color: "#ffffff", width: 8, type: [32, 31] },
    },
    {
      type: "custom", xAxisIndex: idx * 5 + 2, yAxisIndex: idx * 5 + 2, data: levels, silent: true, z: 2,
      encode: { y: 0 },
      renderItem: (_: any, api: any) => {
        const v = api.value(0);
        const a = api.coord([0, v + step / 2]);
        const b = api.coord([1, v - step / 2]);
        const y0 = Math.round(a[1]);
        return { type: "rect", shape: { x: a[0], y: y0, width: b[0] - a[0], height: Math.round(b[1]) - y0 },
          style: { fill: colorOf(v, lo, hi, map) } };
      },
    },
  ];
  return { grid, xAxis, yAxis, series };
}

export default function App() {
  const ref = useRef<HTMLDivElement>(null);
  document.body.style.margin = "0";
  // The chart is laid out at 3125x6252; a shorter window gets it compressed vertically so nothing is cut off.
  const fit = Math.min(1, window.innerHeight / PAGE_H);
  useEffect(() => {
    const chart = echarts.init(ref.current!, undefined, { renderer: "svg" });
    const a = buildPanel(469, 0, coherence, 0, 1, parula, coherenceBarTicks);
    const b = buildPanel(3429, 1, phase, -Math.PI, Math.PI, hsvMap, phaseBarTicks);
    const titleStyle = { fontSize: 64.5, fontWeight: "bold", color: "#000000", fontFamily: FONT, lineHeight: 80 };
    chart.setOption({
      animation: false,
      backgroundColor: "#ffffff",
      title: [
        { text: titleCoherence, left: 1479, top: 147, textAlign: "center", textStyle: titleStyle, padding: 0 },
        { text: titlePhase, left: 1479, top: 3191, textAlign: "center", textStyle: titleStyle, padding: 0 },
      ],
      grid: [...a.grid, ...b.grid],
      xAxis: [...a.xAxis, ...b.xAxis],
      yAxis: [...a.yAxis, ...b.yAxis],
      series: [...a.series, ...b.series],
    });
    return () => chart.dispose();
  }, []);
  return (
    <div style={{ width: PAGE_W, height: Math.floor(PAGE_H * fit), overflow: "hidden" }}>
      <div ref={ref} style={{ width: PAGE_W, height: PAGE_H, transform: `scaleY(${fit})`, transformOrigin: "0 0" }} />
    </div>
  );
}
